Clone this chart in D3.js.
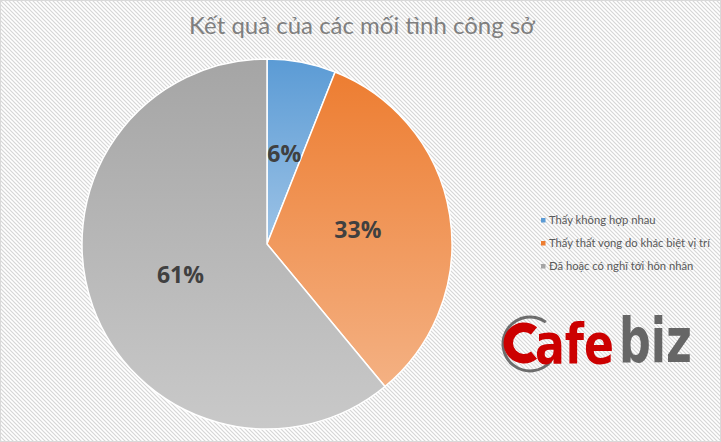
<!DOCTYPE html>
<html lang="vi">
  <head>
    <meta charset="utf-8">
    <title>Kết quả của các mối tình công sở</title>
    <style>
      body { margin: 0; background: #fff; }
      svg { display: block; }
    </style>
  </head>
  <body>
    <script src="https://cdn.jsdelivr.net/npm/d3@7"></script>
    <script>
      const title = "Kết quả của các mối tình công sở";
      const categories = ["Thấy không hợp nhau", "Thấy thất vọng do khác biệt vị trí", "Đã hoặc có nghĩ tới hôn nhân"];
      const values = [6, 33, 61];
      const topColors = ["#5b9bd5", "#ed7d31", "#a5a5a5"];
      const bottomColors = ["#9dc3e6", "#f4b183", "#c9c9c9"];

      const w = 721, h = 442;
      const cx = 267, cy = 244, r = 185;

      const svg = d3.select("body").append("svg")
        .attr("width", w)
        .attr("height", h);

      const defs = svg.append("defs");

      // striped background
      const pat = defs.append("pattern")
        .attr("id", "stripes")
        .attr("width", 4).attr("height", 4)
        .attr("patternUnits", "userSpaceOnUse");
      pat.append("rect").attr("width", 4).attr("height", 4).attr("fill", "#fff");
      pat.append("path")
        .attr("d", "M-1,-1 L5,5 M-1,3 L1,5 M3,-1 L5,1")
        .attr("stroke", "#d6d6d6")
        .attr("stroke-width", 1.2);

      svg.append("rect")
        .attr("width", w).attr("height", h)
        .attr("fill", "url(#stripes)");
      svg.append("rect")
        .attr("x", 0.5).attr("y", 0.5)
        .attr("width", w - 1).attr("height", h - 1)
        .attr("fill", "none")
        .attr("stroke", "#d9d9d9");

      // gradients, one per slice
      categories.forEach((c, i) => {
        const g = defs.append("linearGradient")
          .attr("id", "grad" + i)
          .attr("x1", 0).attr("y1", 0).attr("x2", 0).attr("y2", 1);
        g.append("stop").attr("offset", "0%").attr("stop-color", topColors[i]);
        g.append("stop").attr("offset", "100%").attr("stop-color", bottomColors[i]);
      });

      // title
      const titleText = svg.append("text")
        .attr("x", 362)
        .attr("y", 34)
        .attr("text-anchor", "middle")
        .attr("font-family", "Lato, 'Open Sans', sans-serif")
        .attr("font-size", 24)
        .attr("fill", "#7f7f7f")
        .text(title);
      const tw = titleText.node().getComputedTextLength();
      titleText.attr("font-size", 24 * 346 / tw);

      // pie
      const pie = d3.pie().sort(null).value(d => d);
      const arcs = pie(values);
      const arc = d3.arc().innerRadius(0).outerRadius(r);
      const labelArc = d3.arc().innerRadius(92).outerRadius(92);
      const total = d3.sum(values);

      const g = svg.append("g").attr("transform", `translate(${cx},${cy})`);

      g.selectAll("path")
        .data(arcs)
        .enter()
        .append("path")
        .attr("d", arc)
        .attr("fill", (d, i) => `url(#grad${i})`)
        .attr("stroke", "#fff")
        .attr("stroke-width", 1.5)
        .attr("stroke-linejoin", "round");

      g.selectAll(".lbl")
        .data(arcs)
        .enter()
        .append("text")
        .attr("class", "lbl")
        .attr("transform", d => `translate(${labelArc.centroid(d)})`)
        .attr("text-anchor", "middle")
        .attr("dy", "0.36em")
        .attr("font-family", "'Open Sans', sans-serif")
        .attr("font-weight", "bold")
        .attr("font-size", 23)
        .attr("fill", "#404040")
        .text(d => Math.round(d.value / total * 100) + "%");

      // legend
      const legend = svg.append("g").attr("transform", "translate(541, 220)");
      const rows = legend.selectAll("g")
        .data(categories)
        .enter()
        .append("g")
        .attr("transform", (d, i) => `translate(0, ${i * 23})`);
      rows.append("rect")
        .attr("x", 0).attr("y", -2)
        .attr("width", 4.5).attr("height", 4.5)
        .attr("fill", (d, i) => topColors[i]);
      const legText = rows.append("text")
        .attr("x", 8)
        .attr("y", 4)
        .attr("font-family", "Lato, 'Open Sans', sans-serif")
        .attr("font-size", 12)
        .attr("fill", "#595959")
        .text(d => d);
      const lw = legText.nodes()[1].getComputedTextLength();
      legText.attr("font-size", 12 * 161 / lw);

      // CafeBiz watermark
      const logo = svg.append("g");
      logo.append("path")
        .attr("d", d3.arc().innerRadius(25.5).outerRadius(28.5)
          .startAngle(Math.PI * 0.72).endAngle(Math.PI * 2.2)({}))
        .attr("transform", "translate(530, 344)")
        .attr("fill", "#6d6d6d");
      logo.append("path")
        .attr("d", d3.arc().innerRadius(11).outerRadius(20.5)
          .startAngle(Math.PI * 0.78).endAngle(Math.PI * 2.22)({}))
        .attr("transform", "translate(524, 343)")
        .attr("fill", "#cc0000");

      // squeeze each word horizontally to the logo's width
      function logoWord(txt, x, y, size, width, color) {
        const wg = logo.append("g");
        const t = wg.append("text")
          .attr("font-family", "'DejaVu Sans', sans-serif")
          .attr("font-weight", "bold")
          .attr("font-size", size)
          .attr("fill", color)
          .text(txt);
        const bw = t.node().getBBox().width;
        wg.attr("transform", `translate(${x},${y}) scale(${width / bw},1)`);
      }
      logoWord("afe", 535, 363, 55, 79, "#cc0000");
      logoWord("biz", 619, 362, 62, 73, "#666666");
    </script>
  </body>
</html>
